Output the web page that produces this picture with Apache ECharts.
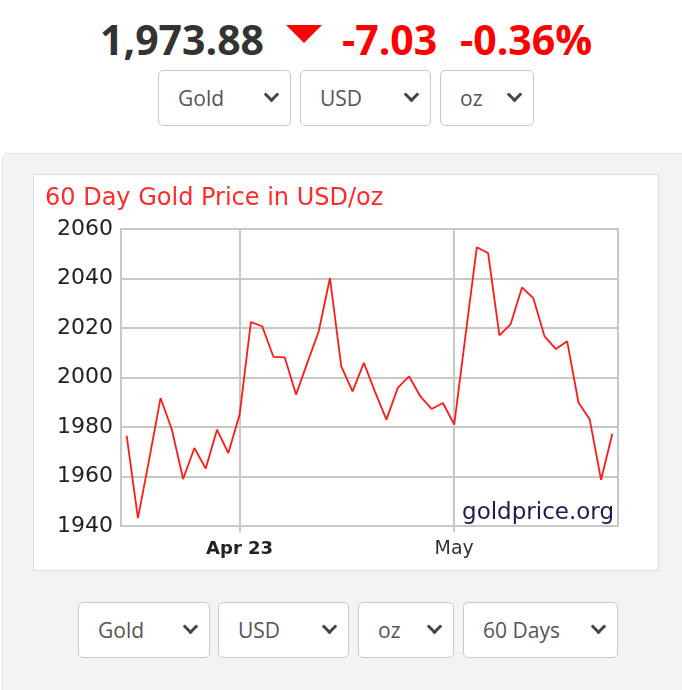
<!DOCTYPE html>
<html>
<head>
<meta charset="utf-8">
<script src="https://cdn.jsdelivr.net/npm/echarts@6/dist/echarts.min.js"></script>
<style>
  html, body { margin: 0; padding: 0; background: #fff; width: 682px; height: 690px; overflow: hidden; position: relative; }
  .hdr { position: absolute; top: 19px; font-family: "Open Sans", sans-serif; font-weight: 700; font-size: 41px; line-height: 41px; white-space: nowrap; }
  .tri { position: absolute; left: 286px; top: 25px; width: 0; height: 0; border-left: 18px solid transparent; border-right: 18px solid transparent; border-top: 18px solid #ff0000; }
  .sel { position: absolute; box-sizing: border-box; background: #fff; border: 1px solid #c9c9c9; border-radius: 5px; font-family: "Open Sans", sans-serif; font-size: 21px; color: #555; padding-left: 19px; }
  .sel .chev { position: absolute; right: 13px; width: 8px; height: 8px; border-right: 3px solid #444; border-bottom: 3px solid #444; transform: rotate(45deg); }
  .panel { position: absolute; left: 2px; top: 153px; width: 690px; height: 560px; background: #f3f3f3; border: 1px solid #e2e2e2; border-radius: 6px; box-sizing: border-box; }
  .cbox { position: absolute; left: 33px; top: 174px; width: 626px; height: 397px; background: #fff; border: 1px solid #dcdcdc; box-sizing: border-box; }
  #chart { position: absolute; left: 34px; top: 175px; width: 624px; height: 395px; }
</style>
</head>
<body>
<div class="hdr" style="left:100px;color:#333;">1,973.88</div>
<div class="tri"></div>
<div class="hdr" style="left:342px;color:#ff0000;">-7.03</div>
<div class="hdr" style="left:460px;color:#ff0000;">-0.36%</div>

<div id="top-sels"></div>
<div class="panel"></div>
<div class="cbox"></div>
<div id="chart"></div>
<div id="bot-sels"></div>

<script>
// ---- data ----
const dates = [
  '2023-03-20','2023-03-21','2023-03-22','2023-03-23','2023-03-24',
  '2023-03-27','2023-03-28','2023-03-29','2023-03-30','2023-03-31',
  '2023-04-03','2023-04-04','2023-04-05','2023-04-06',
  '2023-04-10','2023-04-11','2023-04-12','2023-04-13','2023-04-14',
  '2023-04-17','2023-04-18','2023-04-19','2023-04-20','2023-04-21',
  '2023-04-24','2023-04-25','2023-04-26','2023-04-27','2023-04-28',
  '2023-05-01','2023-05-02','2023-05-03','2023-05-04','2023-05-05',
  '2023-05-08','2023-05-09','2023-05-10','2023-05-11','2023-05-12',
  '2023-05-15','2023-05-16','2023-05-17','2023-05-18','2023-05-19'
];
const prices = [
  1976.5, 1943.2, 1967.0, 1991.7, 1979.0,
  1959.0, 1971.5, 1963.2, 1978.9, 1969.5,
  1985.0, 2022.4, 2020.7, 2008.3,
  2008.1, 1993.1, 2006.0, 2018.6, 2040.2,
  2004.5, 1994.4, 2005.9, 1994.1, 1983.0,
  1995.8, 2000.5, 1992.4, 1987.3, 1989.7,
  1981.0, 2017.0, 2052.6, 2050.3, 2017.0,
  2021.6, 2036.4, 2032.1, 2016.6, 2011.5,
  2014.6, 1989.9, 1983.0, 1958.7, 1977.3
];
const xTickDates = ['2023-04-03', '2023-05-01'];
const xTickTexts = ['Apr 23', 'May'];
const yMin = 1940, yMax = 2060, yStep = 20;
const titleText = '60 Day Gold Price in USD/oz';
const watermark = 'goldprice.org';
const topSelects = ['Gold', 'USD', 'oz'];
const bottomSelects = ['Gold', 'USD', 'oz', '60 Days'];

// ---- dropdowns (page chrome) ----
function makeSels(containerId, labels, lefts, widths, top, height) {
  const c = document.getElementById(containerId);
  labels.forEach((t, i) => {
    const d = document.createElement('div');
    d.className = 'sel';
    d.style.left = lefts[i] + 'px';
    d.style.top = top + 'px';
    d.style.width = widths[i] + 'px';
    d.style.height = height + 'px';
    d.style.lineHeight = (height - 2) + 'px';
    d.textContent = t;
    const ch = document.createElement('span');
    ch.className = 'chev';
    ch.style.top = (height / 2 - 10) + 'px';
    d.appendChild(ch);
    c.appendChild(d);
  });
}
makeSels('top-sels', topSelects, [158, 300, 440], [133, 131, 94], 70, 56);
makeSels('bot-sels', bottomSelects, [78, 218, 358, 463], [132, 131, 96, 155], 602, 56);

// ---- chart ----
const chart = echarts.init(document.getElementById('chart'), null, { renderer: 'canvas' });
const tickIdx = xTickDates.map(d => dates.indexOf(d));
const font = '"DejaVu Sans", Verdana, sans-serif';

chart.setOption({
  animation: false,
  backgroundColor: '#fff',
  title: {
    text: titleText,
    left: 11, top: 12, padding: 0,
    textStyle: { color: '#ff2a2a', fontFamily: font, fontWeight: 'normal', fontSize: 24, lineHeight: 24 }
  },
  grid: { left: 87, right: 40, top: 54, bottom: 44, show: true, borderColor: '#c8c8c8', borderWidth: 2, containLabel: false },
  xAxis: {
    type: 'category',
    data: dates,
    boundaryGap: true,
    axisLine: { show: false },
    axisTick: {
      show: true, alignWithLabel: true, length: 6,
      interval: (i) => tickIdx.indexOf(i) >= 0,
      lineStyle: { color: '#c8c8c8', width: 2 }
    },
    axisLabel: {
      interval: (i) => tickIdx.indexOf(i) >= 0,
      margin: 14,
      fontFamily: font, fontSize: 19, color: '#333',
      formatter: (v) => {
        const k = xTickDates.indexOf(v);
        if (k < 0) return '';
        return k === 0 ? '{b|' + xTickTexts[k] + '}' : xTickTexts[k];
      },
      rich: { b: { fontFamily: font, fontSize: 18, fontWeight: 'bold', color: '#222' } }
    },
    splitLine: { show: false }
  },
  yAxis: {
    type: 'value',
    min: yMin, max: yMax, interval: yStep,
    axisLine: { show: false },
    axisTick: { show: false },
    axisLabel: { margin: 8, fontFamily: font, fontSize: 22, color: '#222', formatter: (v) => String(v) },
    splitLine: { show: true, lineStyle: { color: '#c8c8c8', width: 2 } }
  },
  graphic: [{
    type: 'text',
    right: 44, bottom: 45,
    z: 100,
    style: { text: watermark, fill: '#1c1c4e', font: '23px ' + font }
  }],
  series: [{
    type: 'line',
    data: prices,
    showSymbol: false,
    symbol: 'none',
    lineStyle: { color: '#ff1a1a', width: 1.8 },
    z: 10,
    markLine: {
      silent: true,
      symbol: 'none',
      label: { show: false },
      lineStyle: { color: '#c8c8c8', width: 2, type: 'solid' },
      data: xTickDates.map(d => ({ xAxis: d })),
      z: 1
    }
  }]
});
</script>
</body>
</html>
